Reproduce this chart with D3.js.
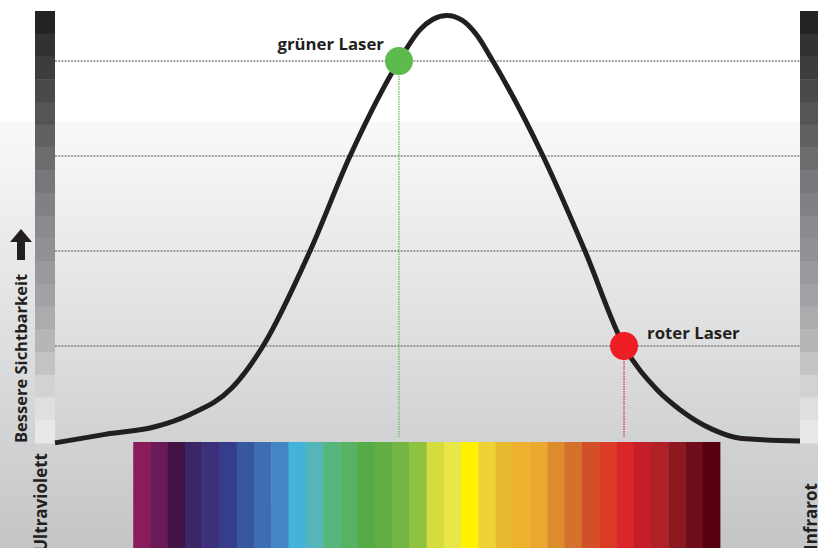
<!DOCTYPE html>
<html>
<head>
<meta charset="utf-8">
<script src="https://cdn.jsdelivr.net/npm/d3@7/dist/d3.min.js"></script>
<style>
html,body{margin:0;padding:0;background:#fff;overflow:hidden;}
svg{display:block;}
text{font-family:"Open Sans","Noto Sans",sans-serif;font-weight:700;fill:#231f20;}
</style>
</head>
<body>
<svg id="chart" width="818" height="548"></svg>
<script>
// ---- data ----
// visibility curve: x = position along spectrum (0..100), y = visibility level (0..4.5)
const curveX = [0, 6.71, 13.42, 18.12, 23.76, 27.92, 34.23, 39.60, 46.17, 49.00, 50.74, 52.62, 54.63, 56.64, 58.39, 65.50, 71.14, 76.38, 80.81, 83.89, 88.32, 91.95, 100];
const curveY = [-0.02, 0.07, 0.15, 0.28, 0.56, 1.00, 2.00, 3.00, 4.00, 4.33, 4.44, 4.48, 4.43, 4.27, 4.05, 3.00, 2.00, 1.00, 0.54, 0.33, 0.12, 0.03, 0.00];
const gridLevels = [1, 2, 3, 4];
const laserNames = ["grüner Laser", "roter Laser"];
const laserX = [46.17, 76.38];
const laserY = [4, 1];
const laserColors = ["#5cbb4c", "#ee1c25"];
const spectrumExtent = [10.5, 89.26];
const spectrumColors = ["#8a1c5c","#6a1a56","#421446","#3c2766","#3c2f7c","#363d8a","#37589f","#3f6db4","#4386c5","#42b4dc","#54b6b9","#56b67c","#58b263","#55ac47","#62ae44","#75b543","#8fc23e","#d4dc3f","#e9e64a","#fff200","#efd235","#e6b92f","#f0b22e","#eca72e","#dd8c2c","#d4712b","#d34f28","#dc3c26","#da2628","#c41f28","#b11f27","#8e1820","#6f0e1a","#560010"];
const grayColors = ["#252223","#333132","#3e3d3e","#49494a","#545556","#606162","#6b6c6e","#76777a","#808184","#8a8b8e","#909194","#999a9d","#a1a2a5","#abacae","#b5b6b8","#c2c3c5","#d1d2d4","#dedfe0","#e7e8e9"];
const axisLabel = "Bessere Sichtbarkeit";
const leftEndLabel = "Ultraviolett";
const rightEndLabel = "Infrarot";

// ---- layout ----
const W = 818, H = 548;
const plotL = 55, plotR = 800;
const svg = d3.select("#chart");
const x = d3.scaleLinear().domain([0, 100]).range([plotL, plotR]);
const y = d3.scaleLinear().domain([0, 4]).range([441, 61]);

// background gradient
const defs = svg.append("defs");
const grad = defs.append("linearGradient").attr("id", "bg")
  .attr("gradientUnits", "userSpaceOnUse").attr("x1", 0).attr("y1", 0).attr("x2", 0).attr("y2", H);
grad.append("stop").attr("offset", 121 / H).attr("stop-color", "#ffffff");
grad.append("stop").attr("offset", 122 / H).attr("stop-color", "#f9f9f9");
grad.append("stop").attr("offset", 1).attr("stop-color", "#c4c5c7");
svg.append("rect").attr("width", W).attr("height", H).attr("fill", "url(#bg)");

// grid lines
svg.append("g").selectAll("line").data(gridLevels).join("line")
  .attr("x1", plotL).attr("x2", plotR)
  .attr("y1", d => y(d)).attr("y2", d => y(d))
  .attr("stroke", "#4a4a4a").attr("stroke-width", 1).attr("stroke-dasharray", "2,1.2");

// grayscale scales on both sides
const gy = d3.scaleBand().domain(d3.range(grayColors.length)).range([11, 443]);
[[35, 20], [800, 18]].forEach(([gx, gw]) => {
  svg.append("g").selectAll("rect").data(grayColors).join("rect")
    .attr("x", gx).attr("width", gw)
    .attr("y", (d, i) => gy(i)).attr("height", gy.bandwidth() + 0.5)
    .attr("fill", d => d);
});

// spectrum
const sx = d3.scaleBand().domain(d3.range(spectrumColors.length))
  .range([x(spectrumExtent[0]), x(spectrumExtent[1])]);
svg.append("g").selectAll("rect").data(spectrumColors).join("rect")
  .attr("x", (d, i) => sx(i)).attr("width", sx.bandwidth() + 0.4)
  .attr("y", 442).attr("height", H - 442)
  .attr("fill", d => d);

// laser drop lines
svg.append("g").selectAll("line").data(laserX).join("line")
  .attr("x1", d => x(d)).attr("x2", d => x(d))
  .attr("y1", (d, i) => y(laserY[i])).attr("y2", 437)
  .attr("stroke", (d, i) => laserColors[i]).attr("stroke-width", 1.2).attr("stroke-dasharray", "1.5,1");

// curve
const pts = curveX.map((v, i) => [v, curveY[i]]);
const line = d3.line().x(d => x(d[0])).y(d => y(d[1])).curve(d3.curveMonotoneX);
svg.append("path").attr("d", line(pts)).attr("fill", "none")
  .attr("stroke", "#231f20").attr("stroke-width", 5).attr("stroke-linejoin", "round");

// laser dots
svg.append("g").selectAll("circle").data(laserX).join("circle")
  .attr("cx", d => x(d)).attr("cy", (d, i) => y(laserY[i])).attr("r", 14)
  .attr("fill", (d, i) => laserColors[i]);

// laser labels
svg.append("text").attr("x", x(laserX[0]) - 15).attr("y", 50)
  .attr("text-anchor", "end").attr("font-size", 16.8).text(laserNames[0]);
svg.append("text").attr("x", x(laserX[1]) + 23).attr("y", 339)
  .attr("text-anchor", "start").attr("font-size", 16.8).text(laserNames[1]);

// vertical axis label with arrow
svg.append("text").attr("transform", "translate(27,443) rotate(-90)")
  .attr("text-anchor", "start").attr("font-size", 16.5).text(axisLabel);
svg.append("path")
  .attr("d", "M21,229 L32,242 L25,242 L25,260 L17,260 L17,242 L10,242 Z")
  .attr("fill", "#231f20");

// end labels
svg.append("text").attr("transform", "translate(47,453) rotate(-90)")
  .attr("text-anchor", "end").attr("font-size", 17).text(leftEndLabel);
svg.append("text").attr("transform", "translate(817,483) rotate(-90)")
  .attr("text-anchor", "end").attr("font-size", 17).text(rightEndLabel);
</script>
</body>
</html>
